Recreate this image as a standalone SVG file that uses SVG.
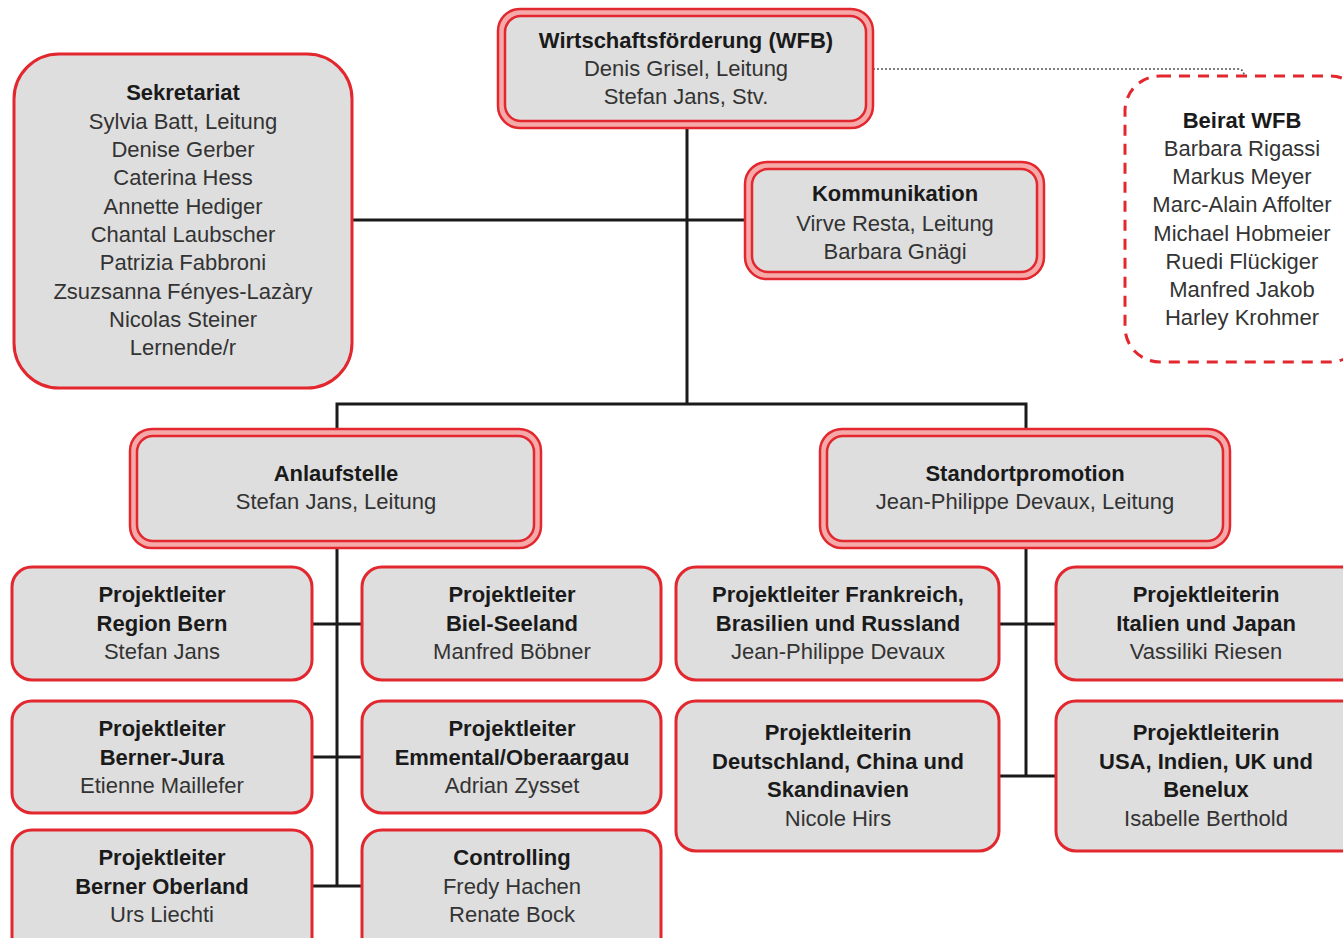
<svg xmlns="http://www.w3.org/2000/svg" width="1343" height="938" viewBox="0 0 1343 938">
<style>
.bg{fill:#ffffff}
.outer{fill:#f6a9a9;stroke:#e2272e;stroke-width:2.5}
.inner{fill:#dedede;stroke:#e2272e;stroke-width:2.5}
.single{fill:#dedede;stroke:#e2272e;stroke-width:3}
.dash{fill:#ffffff;stroke:#e2272e;stroke-width:3;stroke-dasharray:11 8}
.con{stroke:#1a1a1a;stroke-width:3;fill:none}
.dot{stroke:#555555;stroke-width:1.6;stroke-dasharray:2 2;fill:none}
text{font-family:"Liberation Sans",Arial,Helvetica,sans-serif;font-size:22px;text-anchor:middle;fill:#333333}
.b{font-weight:bold;fill:#1a1a1a}
</style>
<rect class="bg" x="0" y="0" width="1343" height="938"/>
<g id="connectors">
<line class="con" x1="687" y1="126" x2="687" y2="404"/>
<line class="con" x1="352" y1="220" x2="746" y2="220"/>
<polyline class="con" points="337,431 337,404 1026,404 1026,431"/>
<line class="con" x1="337" y1="547" x2="337" y2="887"/>
<line class="con" x1="311" y1="624" x2="363" y2="624"/>
<line class="con" x1="311" y1="757" x2="363" y2="757"/>
<line class="con" x1="311" y1="886" x2="363" y2="886"/>
<line class="con" x1="1026" y1="547" x2="1026" y2="777"/>
<line class="con" x1="998" y1="624" x2="1057" y2="624"/>
<line class="con" x1="998" y1="776" x2="1057" y2="776"/>
<path class="dot" d="M873,69 H1238 Q1244,69 1244,76"/>
</g>
<g id="wfb">
<rect class="outer" x="498" y="9" width="375" height="119" rx="22"/>
<rect class="inner" x="505" y="16" width="361" height="105" rx="16"/>
<text class="b" x="686" y="48">Wirtschaftsförderung (WFB)</text>
<text x="686" y="76">Denis Grisel, Leitung</text>
<text x="686" y="104">Stefan Jans, Stv.</text>
</g>
<g id="sekretariat">
<rect class="single" x="14" y="54" width="338" height="334" rx="45"/>
<text class="b" x="183" y="100">Sekretariat</text>
<text x="183" y="129">Sylvia Batt, Leitung</text>
<text x="183" y="157">Denise Gerber</text>
<text x="183" y="185">Caterina Hess</text>
<text x="183" y="214">Annette Hediger</text>
<text x="183" y="242">Chantal Laubscher</text>
<text x="183" y="270">Patrizia Fabbroni</text>
<text x="183" y="299">Zsuzsanna Fényes-Lazàry</text>
<text x="183" y="327">Nicolas Steiner</text>
<text x="183" y="355">Lernende/r</text>
</g>
<g id="kommunikation">
<rect class="outer" x="745" y="162" width="299" height="117" rx="22"/>
<rect class="inner" x="752" y="169" width="285" height="103" rx="16"/>
<text class="b" x="895" y="201">Kommunikation</text>
<text x="895" y="231">Virve Resta, Leitung</text>
<text x="895" y="259">Barbara Gnägi</text>
</g>
<g id="beirat">
<rect class="dash" x="1125" y="76" width="240" height="286" rx="35"/>
<text class="b" x="1242" y="128">Beirat WFB</text>
<text x="1242" y="156">Barbara Rigassi</text>
<text x="1242" y="184">Markus Meyer</text>
<text x="1242" y="212">Marc-Alain Affolter</text>
<text x="1242" y="241">Michael Hobmeier</text>
<text x="1242" y="269">Ruedi Flückiger</text>
<text x="1242" y="297">Manfred Jakob</text>
<text x="1242" y="325">Harley Krohmer</text>
</g>
<g id="anlaufstelle">
<rect class="outer" x="130" y="429" width="411" height="119" rx="22"/>
<rect class="inner" x="137" y="436" width="397" height="105" rx="16"/>
<text class="b" x="336" y="481">Anlaufstelle</text>
<text x="336" y="509">Stefan Jans, Leitung</text>
</g>
<g id="standortpromotion">
<rect class="outer" x="820" y="429" width="410" height="119" rx="22"/>
<rect class="inner" x="827" y="436" width="396" height="105" rx="16"/>
<text class="b" x="1025" y="481">Standortpromotion</text>
<text x="1025" y="509">Jean-Philippe Devaux, Leitung</text>
</g>
<g id="pl-bern">
<rect class="single" x="12" y="567" width="300" height="113" rx="20"/>
<text class="b" x="162" y="602">Projektleiter</text>
<text class="b" x="162" y="631">Region Bern</text>
<text x="162" y="659">Stefan Jans</text>
</g>
<g id="pl-jura">
<rect class="single" x="12" y="701" width="300" height="112" rx="20"/>
<text class="b" x="162" y="736">Projektleiter</text>
<text class="b" x="162" y="765">Berner-Jura</text>
<text x="162" y="793">Etienne Maillefer</text>
</g>
<g id="pl-oberland">
<rect class="single" x="12" y="830" width="300" height="130" rx="20"/>
<text class="b" x="162" y="865">Projektleiter</text>
<text class="b" x="162" y="894">Berner Oberland</text>
<text x="162" y="922">Urs Liechti</text>
</g>
<g id="pl-biel">
<rect class="single" x="362" y="567" width="299" height="113" rx="20"/>
<text class="b" x="512" y="602">Projektleiter</text>
<text class="b" x="512" y="631">Biel-Seeland</text>
<text x="512" y="659">Manfred Böbner</text>
</g>
<g id="pl-emmental">
<rect class="single" x="362" y="701" width="299" height="112" rx="20"/>
<text class="b" x="512" y="736">Projektleiter</text>
<text class="b" x="512" y="765">Emmental/Oberaargau</text>
<text x="512" y="793">Adrian Zysset</text>
</g>
<g id="controlling">
<rect class="single" x="362" y="830" width="299" height="130" rx="20"/>
<text class="b" x="512" y="865">Controlling</text>
<text x="512" y="894">Fredy Hachen</text>
<text x="512" y="922">Renate Bock</text>
</g>
<g id="pl-frankreich">
<rect class="single" x="676" y="567" width="323" height="113" rx="20"/>
<text class="b" x="838" y="602">Projektleiter Frankreich,</text>
<text class="b" x="838" y="631">Brasilien und Russland</text>
<text x="838" y="659">Jean-Philippe Devaux</text>
</g>
<g id="pl-deutschland">
<rect class="single" x="676" y="701" width="323" height="150" rx="20"/>
<text class="b" x="838" y="740">Projektleiterin</text>
<text class="b" x="838" y="769">Deutschland, China und</text>
<text class="b" x="838" y="797">Skandinavien</text>
<text x="838" y="826">Nicole Hirs</text>
</g>
<g id="pl-italien">
<rect class="single" x="1056" y="567" width="310" height="113" rx="20"/>
<text class="b" x="1206" y="602">Projektleiterin</text>
<text class="b" x="1206" y="631">Italien und Japan</text>
<text x="1206" y="659">Vassiliki Riesen</text>
</g>
<g id="pl-usa">
<rect class="single" x="1056" y="701" width="310" height="150" rx="20"/>
<text class="b" x="1206" y="740">Projektleiterin</text>
<text class="b" x="1206" y="769">USA, Indien, UK und</text>
<text class="b" x="1206" y="797">Benelux</text>
<text x="1206" y="826">Isabelle Berthold</text>
</g>
</svg>
